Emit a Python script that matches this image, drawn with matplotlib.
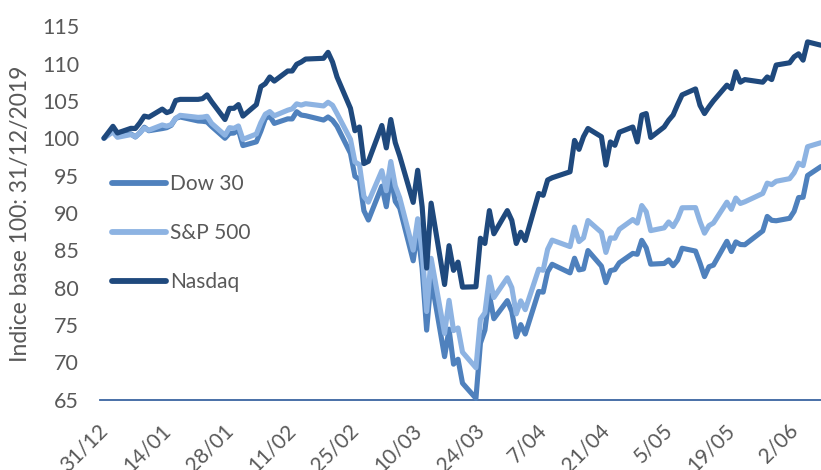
import datetime
import matplotlib
matplotlib.use("Agg")
import matplotlib.pyplot as plt
import matplotlib.dates as mdates
from matplotlib.transforms import ScaledTranslation

plt.rcParams['font.family'] = ['Lato', 'DejaVu Sans']

# ---- data ----
trading_days = {
    12: [31],
    1: [2, 3, 6, 7, 8, 9, 10, 13, 14, 15, 16, 17, 21, 22, 23, 24, 27, 28, 29, 30, 31],
    2: [3, 4, 5, 6, 7, 10, 11, 12, 13, 14, 18, 19, 20, 21, 24, 25, 26, 27, 28],
    3: [2, 3, 4, 5, 6, 9, 10, 11, 12, 13, 16, 17, 18, 19, 20, 23, 24, 25, 26, 27, 30, 31],
    4: [1, 2, 3, 6, 7, 8, 9, 13, 14, 15, 16, 17, 20, 21, 22, 23, 24, 27, 28, 29, 30],
    5: [1, 4, 5, 6, 7, 8, 11, 12, 13, 14, 15, 18, 19, 20, 21, 22, 26, 27, 28, 29],
    6: [1, 2, 3, 4, 5, 8],
}

dow30 = [100,
         101.16, 100.34, 100.58, 100.16, 100.72, 101.47, 101.00, 101.29, 101.41, 101.72, 102.66, 102.84, 102.31, 102.27, 102.18, 101.58, 99.99, 100.65, 100.69, 101.12, 99.01,
         99.51, 100.94, 102.64, 102.95, 101.98, 102.59, 102.58, 103.55, 103.10, 103.01, 102.43, 102.84, 102.39, 101.59, 97.98, 94.89, 94.46, 90.29, 89.04,
         93.57, 90.82, 94.93, 91.53, 90.63, 83.58, 87.67, 82.53, 74.29, 81.24, 70.74, 74.42, 69.73, 70.39, 67.19, 65.15, 72.55, 74.29, 79.02, 75.82, 78.24, 76.80,
         73.39, 75.03, 73.77, 79.47, 79.38, 82.11, 83.11, 81.96, 83.92, 82.36, 82.48, 84.95, 82.87, 80.66, 82.26, 82.40, 83.31, 84.57, 84.45, 86.32, 85.31,
         83.13, 83.22, 83.69, 82.92, 83.66, 85.26, 84.88, 83.27, 81.46, 82.78, 83.00, 86.19, 84.82, 86.11, 85.76, 85.73, 87.58, 89.52, 89.00, 88.94,
         89.27, 90.20, 92.05, 92.09, 95.00, 96.2]

sp500 = [100,
         100.84, 100.12, 100.48, 100.20, 100.69, 101.36, 101.07, 101.77, 101.62, 101.81, 102.66, 103.06, 102.79, 102.82, 102.93, 102.00, 100.40, 101.41, 101.32, 101.64, 99.84,
         100.56, 102.07, 103.22, 103.56, 103.00, 103.75, 103.93, 104.60, 104.43, 104.62, 104.32, 104.81, 104.41, 103.31, 99.85, 96.82, 96.46, 92.20, 91.44,
         95.65, 92.96, 96.88, 93.60, 92.00, 85.01, 89.21, 84.85, 76.78, 83.91, 73.86, 78.28, 74.23, 74.58, 71.34, 69.25, 75.75, 76.62, 81.41, 78.66, 81.30, 80.00,
         76.47, 78.21, 77.03, 82.45, 82.31, 85.12, 86.35, 85.48, 88.09, 86.15, 86.65, 88.97, 87.38, 84.70, 86.64, 86.60, 87.80, 89.10, 88.63, 90.98, 90.15,
         87.62, 87.99, 88.78, 88.16, 89.18, 90.68, 90.70, 88.84, 87.28, 88.29, 88.64, 91.43, 90.47, 91.98, 91.26, 91.48, 92.60, 93.98, 93.78, 94.23,
         94.58, 95.36, 96.66, 96.33, 98.86, 99.4]

nasdaq = [100,
          101.59, 100.70, 101.32, 101.30, 102.05, 102.96, 102.82, 103.90, 103.42, 103.65, 105.05, 105.2, 105.2, 105.3, 105.8, 104.9, 102.5, 104.0, 104.0, 104.5, 102.96,
          104.5, 106.9, 107.3, 108.2, 107.65, 109.0, 109.0, 109.9, 110.2, 110.6, 110.7, 111.5, 110.2, 108.2, 104.0, 101.0, 101.5, 96.6, 96.9,
          101.7, 98.7, 102.5, 99.4, 97.6, 91.4, 95.7, 90.8, 82.6, 91.3, 80.4, 85.6, 82.3, 83.4, 80.05, 80.1, 86.6, 85.9, 90.3, 87.2, 90.3, 89.0,
          85.9, 87.4, 86.3, 92.6, 92.35, 94.4, 94.7, 95.5, 99.7, 98.5, 100.2, 101.3, 100.2, 96.4, 99.5, 99.05, 100.8, 101.5, 99.5, 103.1, 103.3,
          100.1, 101.5, 102.4, 103.1, 104.5, 105.8, 106.6, 104.4, 103.3, 104.2, 105.0, 107.1, 106.65, 108.9, 107.5, 107.85, 107.5, 108.2, 107.85, 109.8,
          110.1, 110.9, 111.3, 110.45, 112.9, 112.45]

tick_labels = ['31/12', '14/01', '28/01', '11/02', '25/02', '10/03', '24/03',
               '7/04', '21/04', '5/05', '19/05', '2/06']
series_names = ['Dow 30', 'S&P 500', 'Nasdaq']
colors = ['#4f81bd', '#8db3e2', '#1f497d']

# ---- build dates ----
dates = []
for m, days in trading_days.items():
    year = 2019 if m == 12 else 2020
    for d in days:
        dates.append(datetime.date(year, m, d))

start = datetime.date(2019, 12, 31)
tick_dates = [start + datetime.timedelta(days=14 * i) for i in range(len(tick_labels))]

# ---- figure ----
W, H = 821, 470
fig = plt.figure(figsize=(W / 100, H / 100), dpi=100)
ax_left, ax_right = 100, 821
ax_top, ax_bot = 26.2, 399.5
ax = fig.add_axes([ax_left / W, 1 - ax_bot / H, (ax_right - ax_left) / W, (ax_bot - ax_top) / H])

for vals, name, c in zip([dow30, sp500, nasdaq], series_names, colors):
    ax.plot(dates, vals, color=c, lw=3.7, label=name, solid_joinstyle='round',
            solid_capstyle='round', clip_on=False, zorder=3)

x0 = mdates.date2num(start)
ax.set_xlim(x0 - 0.89, x0 + 160.0)
ax.set_ylim(65, 115)
ax.set_yticks(range(65, 116, 5))

for s in ['top', 'right', 'left']:
    ax.spines[s].set_visible(False)
ax.spines['bottom'].set_color('#3a64a0')
ax.spines['bottom'].set_linewidth(1.3)
ax.spines['bottom'].set_zorder(2)

txt_color = '#595959'
ax.tick_params(axis='y', length=0, pad=15, labelsize=15.5, labelcolor=txt_color)
ax.set_xticks(tick_dates)
ax.set_xticklabels(tick_labels, rotation=45, ha='right', va='center',
                   rotation_mode='anchor', fontsize=15, color=txt_color)
ax.tick_params(axis='x', length=0, pad=20)
offset = ScaledTranslation(0.5 / 72, 0, fig.dpi_scale_trans)
for lab in ax.get_xticklabels():
    lab.set_transform(lab.get_transform() + offset)

fig.text(21 / W, 1 - 214 / H, 'Indice base 100: 31/12/2019', rotation=90,
         ha='center', va='center', fontsize=16.5, color=txt_color)

leg = ax.legend(loc='center left', bbox_to_anchor=((112 - ax_left) / (ax_right - ax_left),
                                                    (ax_bot - 233) / (ax_bot - ax_top)),
                frameon=False, fontsize=15, handlelength=2.6, handletextpad=0.2,
                labelspacing=1.4, borderpad=0, borderaxespad=0)
for t in leg.get_texts():
    t.set_color(txt_color)
for l in leg.get_lines():
    l.set_linewidth(4.2)

fig.savefig('out.png', dpi=100)
